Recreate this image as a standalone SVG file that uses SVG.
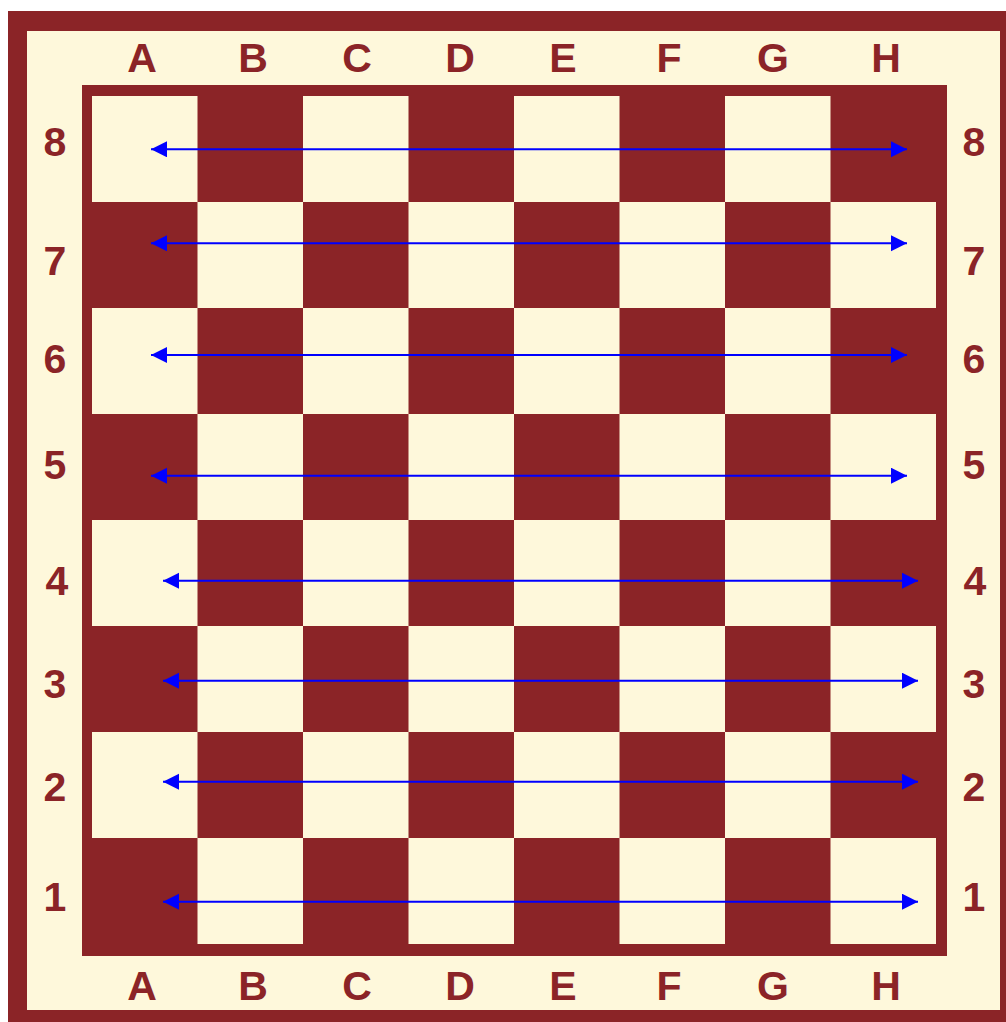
<svg xmlns="http://www.w3.org/2000/svg" width="1006" height="1022" viewBox="0 0 1006 1022">
<style>
.d{fill:#8B2427}
.l{fill:#FEF8DB}
.lb{font-family:"Liberation Sans",Arial,sans-serif;font-weight:bold;font-size:41px;fill:#8B2427;text-anchor:middle}
.ar{stroke:#0000FF;stroke-width:2;fill:none;marker-start:url(#ah);marker-end:url(#ah)}
</style>
<defs>
<marker id="ah" markerUnits="userSpaceOnUse" markerWidth="18" markerHeight="18" refX="16" refY="8" orient="auto-start-reverse">
<path d="M0,0 L16,8 L0,16 Z" fill="#0000FF"/>
</marker>
</defs>
<rect width="1006" height="1022" fill="#FFFFFF"/>
<g id="outer-frame">
<rect class="d" x="8" y="11" width="998" height="1011"/>
<rect class="l" x="27" y="31" width="973" height="979"/>
<rect class="d" x="82" y="85" width="865" height="871"/>
</g>
<g id="board">
<rect class="l" x="92" y="96" width="844" height="848"/>
<g class="d">
<rect x="197.5" y="96" width="105.5" height="106"/><rect x="408.5" y="96" width="105.5" height="106"/><rect x="619.5" y="96" width="105.5" height="106"/><rect x="830.5" y="96" width="105.5" height="106"/>
<rect x="92" y="202" width="105.5" height="106"/><rect x="303" y="202" width="105.5" height="106"/><rect x="514" y="202" width="105.5" height="106"/><rect x="725" y="202" width="105.5" height="106"/>
<rect x="197.5" y="308" width="105.5" height="106"/><rect x="408.5" y="308" width="105.5" height="106"/><rect x="619.5" y="308" width="105.5" height="106"/><rect x="830.5" y="308" width="105.5" height="106"/>
<rect x="92" y="414" width="105.5" height="106"/><rect x="303" y="414" width="105.5" height="106"/><rect x="514" y="414" width="105.5" height="106"/><rect x="725" y="414" width="105.5" height="106"/>
<rect x="197.5" y="520" width="105.5" height="106"/><rect x="408.5" y="520" width="105.5" height="106"/><rect x="619.5" y="520" width="105.5" height="106"/><rect x="830.5" y="520" width="105.5" height="106"/>
<rect x="92" y="626" width="105.5" height="106"/><rect x="303" y="626" width="105.5" height="106"/><rect x="514" y="626" width="105.5" height="106"/><rect x="725" y="626" width="105.5" height="106"/>
<rect x="197.5" y="732" width="105.5" height="106"/><rect x="408.5" y="732" width="105.5" height="106"/><rect x="619.5" y="732" width="105.5" height="106"/><rect x="830.5" y="732" width="105.5" height="106"/>
<rect x="92" y="838" width="105.5" height="107"/><rect x="303" y="838" width="105.5" height="107"/><rect x="514" y="838" width="105.5" height="107"/><rect x="725" y="838" width="105.5" height="107"/>
</g>
</g>
<g id="file-labels-top">
<text class="lb" x="142" y="72">A</text><text class="lb" x="253" y="72">B</text><text class="lb" x="357" y="72">C</text><text class="lb" x="460" y="72">D</text><text class="lb" x="563" y="72">E</text><text class="lb" x="669" y="72">F</text><text class="lb" x="773" y="72">G</text><text class="lb" x="886" y="72">H</text>
</g>
<g id="file-labels-bottom">
<text class="lb" x="142" y="1000">A</text><text class="lb" x="253" y="1000">B</text><text class="lb" x="357" y="1000">C</text><text class="lb" x="460" y="1000">D</text><text class="lb" x="563" y="1000">E</text><text class="lb" x="669" y="1000">F</text><text class="lb" x="773" y="1000">G</text><text class="lb" x="886" y="1000">H</text>
</g>
<g id="rank-labels-left">
<text class="lb" x="55" y="156">8</text><text class="lb" x="55" y="275">7</text><text class="lb" x="55" y="373">6</text><text class="lb" x="55" y="479">5</text><text class="lb" x="57" y="595">4</text><text class="lb" x="55" y="698">3</text><text class="lb" x="55" y="801">2</text><text class="lb" x="55" y="911">1</text>
</g>
<g id="rank-labels-right">
<text class="lb" x="974" y="156">8</text><text class="lb" x="974" y="275">7</text><text class="lb" x="974" y="373">6</text><text class="lb" x="974" y="479">5</text><text class="lb" x="975" y="595">4</text><text class="lb" x="974" y="698">3</text><text class="lb" x="974" y="801">2</text><text class="lb" x="974" y="911">1</text>
</g>
<g id="connectors">
<line class="ar" x1="151" y1="149.3" x2="907" y2="149.3"/>
<line class="ar" x1="151" y1="243.3" x2="907" y2="243.3"/>
<line class="ar" x1="151" y1="355" x2="907" y2="355"/>
<line class="ar" x1="151" y1="475.7" x2="907" y2="475.7"/>
<line class="ar" x1="163" y1="580.7" x2="918" y2="580.7"/>
<line class="ar" x1="163" y1="680.7" x2="918" y2="680.7"/>
<line class="ar" x1="163" y1="781.7" x2="918" y2="781.7"/>
<line class="ar" x1="163" y1="901.7" x2="918" y2="901.7"/>
</g>
</svg>
